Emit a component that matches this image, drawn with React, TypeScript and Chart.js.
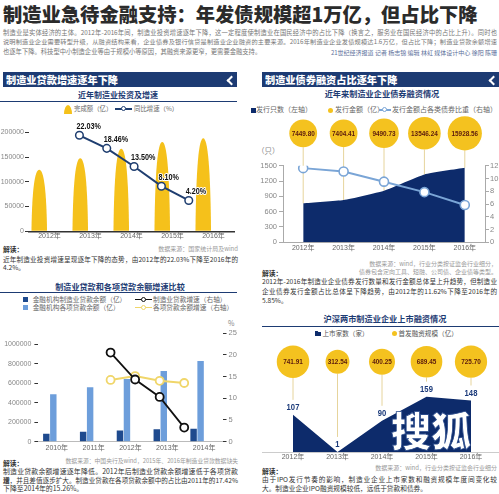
import React, { useEffect, useRef } from "react";
import { Chart, registerables } from "chart.js";
Chart.register(...registerables);

const CJK = "'Noto Sans CJK SC', 'Noto Sans', sans-serif";
const SANS = "'Liberation Sans', 'Noto Sans CJK SC', sans-serif";
const NAVY = "#1d3b73";
const AREA = "#0d2b6b";
const GOLD = "#f4c21f";
const MAROON = "#5a1a0d";
const STEEL = "#7aa5d6";

// ---- Chart 1: 近年制造业投资及增速
const investYears = ["2012年", "2013年", "2014年", "2015年", "2016年"];
const investAmount = [124550, 147705, 166918, 180370, 187836];
const investGrowth = [22.03, 18.46, 13.5, 8.1, 4.2];
const investTicks = [0, 50000, 100000, 150000, 200000];

// ---- Chart 2: 近年来制造业企业债券融资情况
const bondYears = ["2012年", "2013年", "2014年", "2015年", "2016年"];
const bondCount = [763, 828, 1011, 1330, 1461];
const bondAmount = [7449.8, 7404.41, 9490.73, 13546.24, 15928.56];
const bondShare = [11.62, 11.1, 9.5, 7.86, 5.85];

// ---- Chart 3: 制造业贷款和各项贷款余额增速比较
const loanYears = ["2010年", "2011年", "2012年", "2013年", "2014年"];
const mfgLoan = [82000, 103000, 116000, 127000, 134000];
const totalLoan = [486000, 558000, 644000, 726000, 829000];
const mfgLoanGrowth = [null, 20.5, 14.3, 10.3, 3.25];
const totalLoanGrowth = [null, 14.2, 15.1, 14.0, 13.5];
const loanTicks = [0, 200000, 400000, 600000, 800000, 1000000];

// ---- Chart 4: 沪深两市制造业企业上市融资情况
const ipoYears = ["2012年", "2013年", "2014年", "2015年", "2016年"];
const ipoCount = [107, 1, 90, 159, 148];
const ipoAmount = [741.91, 312.54, 400.25, 689.45, 725.7];

const common: any = {
  responsive: true,
  maintainAspectRatio: false,
  animation: false,
  events: [],
  plugins: { legend: { display: false }, tooltip: { enabled: false } },
};

const xTicks = (padding: number) => ({ color: "#666", font: { size: 7, family: SANS }, padding, maxRotation: 0, autoSkip: false });

function condensed(ctx: CanvasRenderingContext2D, txt: string, x: number, y: number, sx: number, fill: string, stroke?: string) {
  ctx.save();
  ctx.translate(x, y);
  ctx.scale(sx, 1);
  if (stroke) {
    ctx.lineWidth = 2;
    ctx.lineJoin = "round";
    ctx.strokeStyle = stroke;
    ctx.strokeText(txt, 0, 0);
  }
  ctx.fillStyle = fill;
  ctx.fillText(txt, 0, 0);
  ctx.restore();
}

const bellPlugin = {
  id: "bells",
  afterDatasetDraw(chart: any, args: any) {
    if (args.index !== 0) return;
    const ctx = chart.ctx as CanvasRenderingContext2D;
    ctx.save();
    ctx.fillStyle = "#f5c11b";
    args.meta.data.forEach((el: any) => {
      const { x, y, base, width } = el.getProps(["x", "y", "base", "width"], true);
      const hw = width / 2;
      const L = x - hw;
      const R = x + hw;
      const h = base - y;
      ctx.beginPath();
      ctx.moveTo(L, base);
      ctx.bezierCurveTo(L + hw * 0.08, base - h * 0.68, x - hw * 0.58, y, x, y);
      ctx.bezierCurveTo(x + hw * 0.58, y, R - hw * 0.08, base - h * 0.68, R, base);
      ctx.closePath();
      ctx.fill();
    });
    ctx.restore();
  },
};

const investLabelPlugin = {
  id: "investLabels",
  afterDatasetsDraw(chart: any) {
    const meta = chart.getDatasetMeta(1);
    const ctx = chart.ctx as CanvasRenderingContext2D;
    ctx.save();
    ctx.font = `bold 9px ${SANS}`;
    ctx.textAlign = "left";
    ctx.textBaseline = "alphabetic";
    meta.data.forEach((pt: any, i: number) => {
      condensed(ctx, investGrowth[i].toFixed(2) + "%", pt.x - 3, pt.y - 6, 0.8, "#111", "#fff");
    });
    ctx.restore();
  },
};

function makeInvest() {
  const leftMax = 230000;
  const base = 31400;
  const per = 7381;
  const shift = 0.095;
  return {
    type: "bar",
    data: {
      labels: investYears,
      datasets: [
        { type: "bar", data: investAmount, backgroundColor: "rgba(0,0,0,0)", categoryPercentage: 1, barPercentage: 0.76, order: 2 },
        {
          type: "line",
          data: investGrowth.map((v, i) => ({ x: i, y: v })),
          xAxisID: "xl",
          yAxisID: "y1",
          borderColor: "#1f3e70",
          borderWidth: 2,
          pointRadius: 3.8,
          pointBackgroundColor: "#fff",
          pointBorderColor: "#1f3e70",
          pointBorderWidth: 1.5,
          order: 1,
        },
      ],
    },
    options: {
      ...common,
      layout: { padding: { top: 4, right: 6, left: 0, bottom: 0 } },
      scales: {
        x: {
          offset: true,
          grid: { display: false, drawTicks: false, tickLength: 0 },
          border: { display: true, color: "#333", width: 1.5 },
          ticks: xTicks(0.5),
          afterFit: (s: any) => { s.height = 12.7; },
        },
        xl: { type: "linear", axis: "x", position: "top", display: false, min: -0.5 - shift, max: 4.5 - shift },
        y: {
          min: 0,
          max: leftMax,
          grid: { drawOnChartArea: false, color: "#333", tickLength: 4 },
          border: { display: false },
          ticks: { color: "#888", font: { size: 7, family: SANS }, padding: 1, callback: (v: any) => String(v) },
          afterBuildTicks: (s: any) => { s.ticks = investTicks.map((v) => ({ value: v })); },
          afterFit: (s: any) => { s.width = 29; },
        },
        y1: { display: false, min: -base / per, max: (leftMax - base) / per },
      },
    },
    plugins: [bellPlugin, investLabelPlugin],
  };
}

const bondPlugin = {
  id: "bondBubbles",
  beforeDatasetsDraw(chart: any) {
    const meta = chart.getDatasetMeta(0);
    const ctx = chart.ctx as CanvasRenderingContext2D;
    const cy = chart.chartArea.top - 32.4;
    ctx.save();
    ctx.strokeStyle = "#e6d49c";
    ctx.lineWidth = 1;
    meta.data.forEach((pt: any, i: number) => {
      const r = 7 + Math.sqrt(bondAmount[i]) * 0.08;
      ctx.beginPath();
      ctx.moveTo(pt.x, cy + r);
      ctx.lineTo(pt.x, pt.y);
      ctx.stroke();
    });
    ctx.restore();
  },
  afterDatasetsDraw(chart: any) {
    const meta = chart.getDatasetMeta(0);
    const ctx = chart.ctx as CanvasRenderingContext2D;
    const cy = chart.chartArea.top - 32.4;
    ctx.save();
    ctx.font = `bold 8px ${SANS}`;
    ctx.textAlign = "center";
    ctx.textBaseline = "middle";
    meta.data.forEach((pt: any, i: number) => {
      const r = 7 + Math.sqrt(bondAmount[i]) * 0.08;
      ctx.beginPath();
      ctx.arc(pt.x, cy, r, 0, Math.PI * 2);
      ctx.fillStyle = GOLD;
      ctx.fill();
      condensed(ctx, bondAmount[i].toFixed(2), pt.x, cy + 0.5, 0.8, MAROON);
    });
    ctx.restore();
  },
};

function makeBond() {
  return {
    type: "line",
    data: {
      labels: bondYears,
      datasets: [
        { data: bondCount, yAxisID: "y", fill: "origin", backgroundColor: AREA, borderWidth: 0, pointRadius: 0, tension: 0.15, order: 2 },
        {
          data: bondShare,
          yAxisID: "y1",
          borderColor: STEEL,
          borderWidth: 2,
          pointRadius: 4.5,
          pointBackgroundColor: "#fff",
          pointBorderColor: STEEL,
          pointBorderWidth: 1.6,
          tension: 0,
          order: 1,
        },
      ],
    },
    options: {
      ...common,
      layout: { padding: { top: 53.7, right: 0, left: 0, bottom: 0 } },
      scales: {
        x: {
          offset: true,
          grid: { display: false, drawTicks: false, tickLength: 0 },
          border: { display: true, color: "#aaa", width: 1 },
          ticks: xTicks(1.2),
          afterFit: (s: any) => { s.height = 11.7; },
        },
        y: {
          position: "left",
          min: 0,
          max: 1500,
          grid: { drawOnChartArea: false, color: "#aaa", tickLength: 4 },
          border: { display: true, color: "#aaa" },
          ticks: { stepSize: 300, color: "#888", font: { size: 7.5, family: SANS }, padding: 2, callback: (v: any) => String(v) },
          afterFit: (s: any) => { s.width = 33; },
        },
        y1: {
          position: "right",
          min: 0,
          max: 12,
          grid: { drawOnChartArea: false, color: "#aaa", tickLength: 4 },
          border: { display: true, color: "#aaa" },
          ticks: { stepSize: 2, color: "#888", font: { size: 7.5, family: SANS }, padding: 1, callback: (v: any) => String(v) },
          afterFit: (s: any) => { s.width = 14; },
        },
      },
    },
    plugins: [bondPlugin],
  };
}

function makeLoan() {
  const shift = 0.19;
  const lineStyle = (c: string, w: number) => ({
    type: "line",
    xAxisID: "xl",
    yAxisID: "y1",
    borderColor: c,
    borderWidth: w,
    pointRadius: 4,
    pointBackgroundColor: "#fff",
    pointBorderColor: c,
    pointBorderWidth: 1.8,
    tension: 0,
  });
  return {
    type: "bar",
    data: {
      labels: loanYears,
      datasets: [
        { type: "bar", data: mfgLoan, backgroundColor: "#1e4a8e", categoryPercentage: 0.76, barPercentage: 0.92, order: 3 },
        { type: "bar", data: totalLoan, backgroundColor: "#6d9edb", categoryPercentage: 0.76, barPercentage: 0.92, order: 3 },
        { ...lineStyle("#f0d66a", 2), data: totalLoanGrowth.map((v, i) => ({ x: i, y: v })), order: 2 },
        { ...lineStyle("#111", 1.8), data: mfgLoanGrowth.map((v, i) => ({ x: i, y: v })), order: 1 },
      ],
    },
    options: {
      ...common,
      layout: { padding: { top: 15, right: 0, left: 0, bottom: 0 } },
      scales: {
        x: {
          offset: true,
          grid: { display: false, drawTicks: false, tickLength: 0 },
          border: { display: true, color: "#bbb", width: 1 },
          ticks: xTicks(1.8),
          afterFit: (s: any) => { s.height = 13.3; },
        },
        xl: { type: "linear", axis: "x", position: "top", display: false, min: -0.5 - shift, max: 4.5 - shift },
        y: {
          min: 0,
          max: 1116000,
          grid: { drawOnChartArea: false, color: "#333", tickLength: 4 },
          border: { display: false },
          ticks: { color: "#888", font: { size: 7, family: SANS }, padding: 3, callback: (v: any) => String(v) },
          afterBuildTicks: (s: any) => { s.ticks = loanTicks.map((v) => ({ value: v })); },
          afterFit: (s: any) => { s.width = 38.4; },
        },
        y1: {
          position: "right",
          min: 0,
          max: 25,
          grid: { drawOnChartArea: false, color: "#333", tickLength: 4 },
          border: { display: false },
          ticks: { stepSize: 5, color: "#888", font: { size: 7.5, family: SANS }, padding: 2, callback: (v: any) => String(v) },
          afterFit: (s: any) => { s.width = 27.5; },
        },
      },
    },
  };
}

const ipoPlugin = {
  id: "ipoBubbles",
  afterDatasetsDraw(chart: any) {
    const meta = chart.getDatasetMeta(0);
    const ctx = chart.ctx as CanvasRenderingContext2D;
    const cy = chart.chartArea.top - 20.6;
    ctx.save();
    meta.data.forEach((pt: any, i: number) => {
      const r = 4 + 0.45 * Math.sqrt(ipoAmount[i]);
      ctx.strokeStyle = "#e6d49c";
      ctx.lineWidth = 1;
      ctx.beginPath();
      ctx.moveTo(pt.x, cy + r);
      ctx.lineTo(pt.x, pt.y - 15);
      ctx.stroke();
      ctx.beginPath();
      ctx.arc(pt.x, cy, r, 0, Math.PI * 2);
      ctx.fillStyle = GOLD;
      ctx.fill();
      ctx.font = `bold 8px ${SANS}`;
      ctx.textAlign = "center";
      ctx.textBaseline = "middle";
      condensed(ctx, ipoAmount[i].toFixed(2), pt.x, cy + 0.5, 0.8, MAROON);
      ctx.font = `bold 9px ${SANS}`;
      ctx.textBaseline = "alphabetic";
      condensed(ctx, String(ipoCount[i]), pt.x, pt.y - 5, 0.85, "#1b3a7a");
    });
    ctx.restore();
  },
};

function makeIpo() {
  return {
    type: "line",
    data: {
      labels: ipoYears,
      datasets: [{ data: ipoCount, fill: "origin", backgroundColor: AREA, borderWidth: 0, pointRadius: 0, tension: 0 }],
    },
    options: {
      ...common,
      layout: { padding: { top: 47.3, right: 28, left: 43, bottom: 0 } },
      scales: {
        x: {
          offset: false,
          grid: { display: false, drawTicks: false, tickLength: 0 },
          border: { display: false },
          ticks: xTicks(0.3),
          afterFit: (s: any) => { s.height = 9.7; },
        },
        y: { display: false, min: 0, max: 200 },
      },
    },
    plugins: [ipoPlugin],
  };
}

function ChartBox({ left, top, width, height, make }: { left: number; top: number; width: number; height: number; make: () => any }) {
  const ref = useRef<HTMLCanvasElement | null>(null);
  useEffect(() => {
    if (!ref.current) return;
    const chart = new Chart(ref.current, make());
    return () => chart.destroy();
  }, [make]);
  return (
    <div style={{ position: "absolute", left, top, width, height }}>
      <canvas ref={ref} />
    </div>
  );
}

type TP = { x: number; y: number; s: number; c?: string; b?: number; w?: number; align?: "left" | "right" | "center" | "justify"; children: React.ReactNode; ls?: number };
function T({ x, y, s, c = "#333", b = 400, w, align = "left", children, ls }: TP) {
  const st: React.CSSProperties = {
    position: "absolute",
    top: y - s * 0.7,
    fontSize: s,
    lineHeight: `${s * 1.4}px`,
    color: c,
    fontWeight: b,
    fontFamily: CJK,
    letterSpacing: ls,
  };
  if (align === "right") {
    st.right = 499 - x;
    st.whiteSpace = "nowrap";
  } else if (align === "center") {
    st.left = x - (w || 200) / 2;
    st.width = w || 200;
    st.textAlign = "center";
    st.whiteSpace = "nowrap";
  } else if (align === "justify") {
    st.left = x;
    st.width = w;
    st.textAlign = "justify";
    st.textAlignLast = "justify" as any;
  } else {
    st.left = x;
    st.whiteSpace = "nowrap";
  }
  return <div style={st}>{children}</div>;
}

const Box = ({ x, y, w, h, c, r, extra }: { x: number; y: number; w: number; h: number; c: string; r?: string; extra?: React.CSSProperties }) => (
  <div style={{ position: "absolute", left: x, top: y, width: w, height: h, background: c, borderRadius: r, ...extra }} />
);

const LineIcon = ({ x, y, w, c }: { x: number; y: number; w: number; c: string }) => (
  <>
    <Box x={x} y={y - 0.75} w={w} h={1.5} c={c} />
    <div style={{ position: "absolute", left: x + w / 2 - 2.8, top: y - 2.8, width: 3.2, height: 3.2, borderRadius: "50%", border: `1.2px solid ${c}`, background: "#fff" }} />
  </>
);

const Banner = ({ x, w, text }: { x: number; w: number; text: string }) => (
  <div style={{ position: "absolute", left: x, top: 72, width: w, height: 15, background: NAVY }}>
    <div style={{ position: "absolute", left: 3, top: 0, lineHeight: "15px", fontSize: 10.2, fontWeight: 900, color: "#fff", fontFamily: CJK, whiteSpace: "nowrap" }}>{text}</div>
    <div style={{ position: "absolute", right: 2, top: 4.5, width: 5, height: 5, borderLeft: "2px solid #fff", borderBottom: "2px solid #fff", transform: "rotate(45deg)" }} />
  </div>
);

export default function App() {
  const grey = "#999";
  return (
    <div style={{ position: "absolute", left: 0, top: 0, width: 499, height: 494, overflow: "hidden", background: "#fff", fontFamily: CJK }}>
      <T x={3} y={15} s={19.3} c="#2b2b2b" b={900}>制造业急待金融支持：年发债规模超1万亿，但占比下降</T>
      <T x={3} y={33.3} s={6.3} c="#777" align="justify" w={494}>制造业是实体经济的主体。2012年-2016年间，制造业投资增速逐年下降，这一定程度使制造业在国民经济中的占比下降（换言之，服务业在国民经济中的占比上升）。同时也</T>
      <T x={3} y={42.7} s={6.2} c="#777" align="justify" w={494}>说明制造业企业需要转型升级，从融资结构来看，企业债券及银行信贷是制造业企业融资的主要来源。2016年制造业企业发债规模达1.6万亿，但占比下降；制造业贷款余额增速</T>
      <T x={3} y={52.3} s={6.3} c="#777">也逐年下降。科技型中小制造企业等由于规模小等原因，其融资来源更窄，更需要金融支持。</T>
      <T x={497} y={53.5} s={6} c="#5c6f9a" align="right">21世纪经济报道 记者 杨志锦 编辑 林虹 媒体设计中心 徐阳 陈珊</T>

      <Banner x={3} w={234} text="制造业贷款增速逐年下降" />
      <Banner x={262} w={237} text="制造业债券融资占比逐年下降" />

      <T x={118} y={95} s={8} c={NAVY} b={700} align="center">近年制造业投资及增速</T>
      <Box x={0} y={101} w={237} h={1} c={NAVY} />
      <Box x={64} y={104.5} w={8} h={9} c="#f5c11b" r="50% 50% 0 0 / 100% 100% 0 0" />
      <T x={74} y={109} s={6.4} c="#666">完成额（亿）</T>
      <LineIcon x={115} y={109} w={17} c="#1f3e70" />
      <T x={134} y={109} s={6.4} c="#666">同比增速（%）</T>

      <T x={3} y={250} s={6.8} b={700}>解读：</T>
      <T x={238} y={249.3} s={6} c={grey} align="right">数据来源：国家统计局及wind</T>
      <T x={3} y={259.3} s={6.6} align="justify" w={235}>近年制造业投资增速呈现逐年下降的态势，由2012年的22.03%下降至2016年的</T>
      <T x={3} y={267.5} s={6.6}>4.2%。</T>

      <T x={382} y={93.5} s={8.2} c={NAVY} b={700} align="center">近年来制造业企业债券融资情况</T>
      <Box x={251} y={107.5} w={5} h={5} c={AREA} />
      <T x={256} y={110} s={7} c="#666">发行只数（左轴）</T>
      <Box x={328} y={107.5} w={5} h={5} c={GOLD} r="50%" />
      <T x={335} y={110} s={7} c="#666">发行金额（亿）</T>
      <LineIcon x={379} y={110} w={12} c={STEEL} />
      <T x={392} y={110} s={7} c="#666">发行金额占各类债券比重（右轴）</T>
      <T x={257} y={151} s={7.5} c="#888">（只）</T>

      <T x={497} y={264} s={6} c={grey} align="right">数据来源：wind，行业分类按证监会行业细分，</T>
      <T x={497} y={272} s={6} c={grey} align="right">债券包含定向工具、短融、公司债、企业债等类型。</T>
      <T x={262} y={273.3} s={6.8} b={700}>解读：</T>
      <T x={262} y={281.7} s={6.6} align="justify" w={235}>2012年-2016年制造业企业债券发行数量和发行金额总体呈上升趋势，但制造业</T>
      <T x={262} y={291.7} s={6.6} align="justify" w={235}>企业债券发行金额占比总体呈下降趋势，由2012年的11.62%下降至2016年的</T>
      <T x={262} y={301} s={6.6}>5.85%。</T>

      <T x={120} y={286.7} s={8.1} c={NAVY} b={700} align="center">制造业贷款和各项贷款余额增速比较</T>
      <Box x={0} y={292} w={237} h={1} c={NAVY} />
      <Box x={22.5} y={297} w={5} h={5} c="#1e4a8e" />
      <T x={32.7} y={299.3} s={6.7} c="#666">金融机构制造业贷款余额（亿）</T>
      <LineIcon x={135} y={299.3} w={17} c="#111" />
      <T x={153} y={299.3} s={6.7} c="#666">制造业贷款增速（右轴）</T>
      <Box x={22.5} y={305.3} w={5} h={5} c="#6d9edb" />
      <T x={32.7} y={307.7} s={6.7} c="#666">金融机构各项贷款余额（亿）</T>
      <LineIcon x={135} y={307.7} w={17} c="#f0d66a" />
      <T x={153} y={307.7} s={6.7} c="#666">各项贷款余额增速（右轴）</T>
      <T x={228} y={324} s={7} c="#888">%</T>

      <T x={238} y={460.7} s={5.8} c={grey} align="right">数据来源：中国央行及wind，2015年、2016年制造业贷款数据缺失</T>
      <T x={3} y={463.3} s={6.8} b={700}>解读：</T>
      <T x={3} y={471.5} s={6.9} align="justify" w={235}>制造业贷款余额增速逐年降低。2012年后制造业贷款余额增速低于各项贷款增</T>
      <T x={3} y={480.5} s={6.6} align="justify" w={235}>速，并且差值逐步扩大。制造业贷款在各项贷款余额中的占比由2011年的17.42%</T>
      <T x={3} y={489.3} s={6.9}>下降至2014年的15.26%。</T>

      <T x={385} y={319} s={8.2} c={NAVY} b={700} align="center">沪深两市制造业企业上市融资情况</T>
      <Box x={262} y={325.5} w={237} h={1} c={NAVY} />
      <Box x={315} y={331} w={6} h={5} c={AREA} extra={{ clipPath: "polygon(0 0, 45% 0, 55% 20%, 100% 20%, 100% 100%, 0 100%)" }} />
      <T x={322.5} y={333.3} s={6.6} c="#555">上市家数（家）</T>
      <Box x={392} y={330.8} w={5} h={5} c={GOLD} r="50%" />
      <T x={398.5} y={333.3} s={6.6} c="#555">首发融资规模（亿）</T>
      <Box x={262} y={452} w={237} h={1} c="#ccc" />

      <T x={497} y={467.7} s={6} c={grey} align="right">数据来源：wind，行业分类按证监会行业细分</T>
      <T x={262} y={471.5} s={6.8} b={700}>解读：</T>
      <T x={262} y={479.5} s={6.7} align="justify" w={235}>由于IPO发行节奏的影响，制造业企业上市家数和融资规模年度间变化较</T>
      <T x={262} y={488.3} s={6.7}>大。制造业企业IPO融资规模较低，远低于贷款和债券。</T>

      <ChartBox left={0} top={112} width={240} height={132} make={makeInvest} />
      <ChartBox left={250} top={112} width={249} height={142} make={makeBond} />
      <ChartBox left={0} top={318} width={250} height={137} make={makeLoan} />
      <ChartBox left={250} top={335} width={249} height={127} make={makeIpo} />

      <div style={{ position: "absolute", left: 391, top: 404, fontSize: 40, lineHeight: "50px", fontWeight: 900, color: "#fff", fontFamily: CJK, WebkitTextStroke: "0.8px #2a4a8a", whiteSpace: "nowrap" }}>搜狐</div>
    </div>
  );
}
